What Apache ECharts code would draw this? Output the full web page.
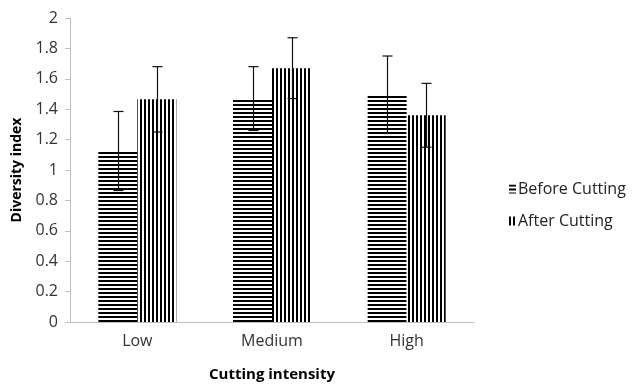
<!DOCTYPE html>
<html>
<head>
<meta charset="UTF-8">
<title>Diversity index</title>
<script src="https://cdn.jsdelivr.net/npm/echarts@6/dist/echarts.min.js"></script>
</head>
<body style="margin:0">
<div id="main" style="width:633px;height:387px;"></div>
<script type="text/javascript">
var categories = ['Low', 'Medium', 'High'];
var beforeValues = [1.125, 1.47, 1.495];
var afterValues = [1.465, 1.67, 1.36];
var beforeErr = [0.26, 0.21, 0.255];
var afterErr = [0.215, 0.2, 0.21];

// stripe fills like the excel patterns
function stripes(horizontal) {
    var c = document.createElement('canvas');
    c.width = 4; c.height = 4;
    var ctx = c.getContext('2d');
    ctx.fillStyle = '#fff';
    ctx.fillRect(0, 0, 4, 4);
    ctx.fillStyle = '#000';
    if (horizontal) ctx.fillRect(0, 0, 4, 2);
    else ctx.fillRect(0, 0, 2, 4);
    return c;
}

var barW = 39;
var errData = [];
for (var i = 0; i < categories.length; i++) {
    errData.push([i, beforeValues[i] - beforeErr[i], beforeValues[i] + beforeErr[i], -1]);
    errData.push([i, afterValues[i] - afterErr[i], afterValues[i] + afterErr[i], 1]);
}

function renderErr(params, api) {
    var lo = api.coord([api.value(0), api.value(1)]);
    var hi = api.coord([api.value(0), api.value(2)]);
    var x = Math.round(lo[0] + api.value(3) * barW / 2) + 0.5;
    var style = { stroke: '#111', lineWidth: 1.2 };
    return {
        type: 'group',
        children: [
            { type: 'line', shape: { x1: x, y1: hi[1], x2: x, y2: lo[1] }, style: style },
            { type: 'line', shape: { x1: x - 5, y1: hi[1], x2: x + 5, y2: hi[1] }, style: style },
            { type: 'line', shape: { x1: x - 5, y1: lo[1], x2: x + 5, y2: lo[1] }, style: style }
        ]
    };
}

var myChart = echarts.init(document.getElementById('main'));
var font = 'Open Sans';
var option = {
    backgroundColor: '#FFFFFF',
    animation: false,
    grid: { left: 70, top: 18, right: 159, bottom: 65 },
    legend: {
        orient: 'vertical',
        left: 504,
        top: 176,
        icon: 'rect',
        itemWidth: 7,
        itemHeight: 9,
        itemGap: 16,
        data: ['Before Cutting', 'After Cutting'],
        textStyle: { fontFamily: font, fontSize: 16, color: '#222', padding: [0, 0, 0, -3] }
    },
    xAxis: {
        type: 'category',
        data: categories,
        name: 'Cutting intensity',
        nameLocation: 'middle',
        nameGap: 45,
        nameTextStyle: { fontFamily: font, fontSize: 15, fontWeight: 'bold', color: '#000' },
        axisLine: { lineStyle: { color: '#bfbfbf' } },
        axisTick: { show: false },
        axisLabel: { fontFamily: font, fontSize: 16, color: '#333', margin: 11 }
    },
    yAxis: {
        type: 'value',
        min: 0,
        max: 2,
        interval: 0.2,
        name: 'Diversity index',
        nameLocation: 'middle',
        nameGap: 46,
        nameTextStyle: { fontFamily: font, fontSize: 14, fontWeight: 'bold', color: '#000' },
        splitLine: { show: false },
        axisLine: { show: true, lineStyle: { color: '#bfbfbf' } },
        axisTick: { show: true, length: 5, lineStyle: { color: '#bfbfbf' } },
        axisLabel: { fontFamily: font, fontSize: 16, color: '#333', margin: 12 }
    },
    series: [
        {
            name: 'Before Cutting',
            type: 'bar',
            barWidth: barW,
            barGap: '0%',
            data: beforeValues,
            itemStyle: { color: { image: stripes(true), repeat: 'repeat' } }
        },
        {
            name: 'After Cutting',
            type: 'bar',
            barWidth: barW,
            data: afterValues,
            itemStyle: { color: { image: stripes(false), repeat: 'repeat' } }
        },
        {
            name: 'err',
            type: 'custom',
            renderItem: renderErr,
            data: errData,
            z: 10
        }
    ]
};
myChart.setOption(option);
</script>
</body>
</html>
